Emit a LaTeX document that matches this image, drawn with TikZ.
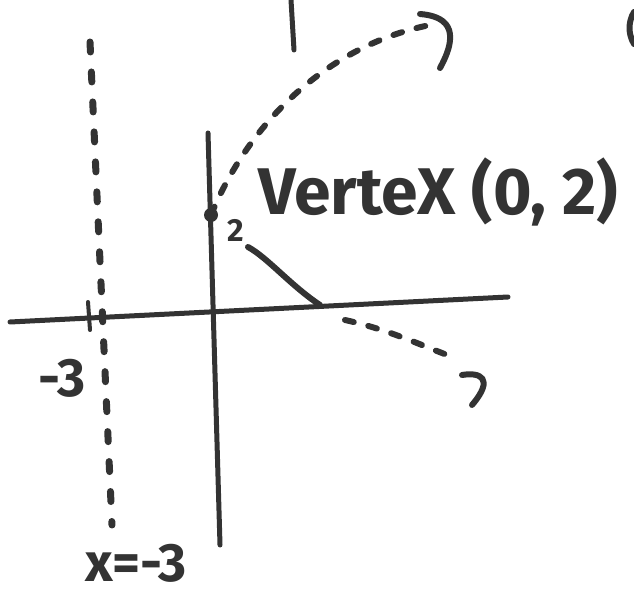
\documentclass[tikz,border=0pt]{standalone}
\usepackage{fontspec}
\setmainfont{Fira Sans}
\begin{document}
\begin{tikzpicture}[x=1pt,y=-1pt,
  ink/.style={draw=black!80,line cap=round,line join=round},
  axis/.style={ink,line width=5pt},
  curve/.style={ink,line width=6pt},
  dashcurve/.style={ink,line width=6pt,dash pattern=on 9pt off 15pt},
  dotline/.style={ink,line width=7pt,dash pattern=on 10pt off 20pt},
  lbl/.style={text=black!80,inner sep=0pt,font=\bfseries\fontsize{66}{70}\selectfont}
]
\useasboundingbox (0,0) rectangle (634,601);
% top stub
\draw[axis] (291,0) -- (294,50);
% partial bracket at right edge
\draw[curve] (634,12) .. controls (628,22) and (628,34) .. (634,44);
% axes
\coordinate (ytop) at (208,133);
\coordinate (ybot) at (220,545);
\coordinate (xl) at (10,322);
\coordinate (xr) at (508,297);
\draw[axis] (ytop) -- (ybot);
\draw[axis] (xl) -- (xr);
% directrix x=-3
\coordinate (dtop) at (90,42);
\coordinate (dbot) at (112,525);
\draw[dotline] (dtop) -- (dbot);
\draw[ink,line width=4pt] (88,302) -- (90,330);
% vertex
\coordinate (V) at (211,215);
\fill[black!80] (V) circle (7);
% upper branch
\coordinate (uend) at (430,25);
\draw[dashcurve] (V) .. controls (250,120) and (330,45) .. (uend);
\draw[curve] (420,14) .. controls (445,16) and (462,28) .. (440,68);
% lower branch
\coordinate (xint) at (320,305);
\draw[curve] (248,247) .. controls (268,258) and (290,285) .. (xint);
\coordinate (lend) at (455,358);
\draw[dashcurve] (345,320) .. controls (390,330) and (420,345) .. (lend);
\draw[curve] (462,375) .. controls (480,372) and (495,378) .. (472,405);
% labels
\node[lbl,anchor=west] (vt) at (258,192) {VerteX (0, 2)};
\node[lbl,font=\bfseries\fontsize{32}{34}\selectfont] (two) at (236,230) {2};
\node[lbl,font=\bfseries\fontsize{54}{58}\selectfont] (m3) at (62,378) {-3};
\node[lbl,font=\bfseries\fontsize{54}{58}\selectfont] (xeq) at (136,563) {x=-3};
\end{tikzpicture}
\end{document}
